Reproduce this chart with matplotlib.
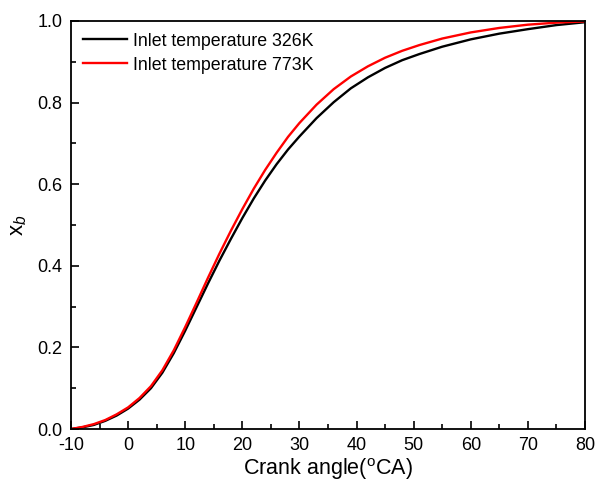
import matplotlib
matplotlib.use("Agg")
import matplotlib.pyplot as plt
from matplotlib.ticker import MultipleLocator, FormatStrFormatter

plt.rcParams['font.family'] = ['Liberation Sans', 'DejaVu Sans']
plt.rcParams['mathtext.fontset'] = 'custom'
plt.rcParams['mathtext.rm'] = 'Liberation Sans'
plt.rcParams['mathtext.it'] = 'Liberation Sans:italic'
plt.rcParams['axes.unicode_minus'] = False

crank_angle = [-10, -8, -6, -4, -2, 0, 2, 4, 6, 8, 10, 12, 14, 16, 18, 20, 22, 24, 26, 28,
               30, 33, 36, 39, 42, 45, 48, 51, 55, 60, 65, 70, 75, 80]
xb_326K = [0.0, 0.004, 0.010, 0.020, 0.033, 0.050, 0.072, 0.100, 0.138, 0.186, 0.241,
           0.299, 0.357, 0.413, 0.466, 0.517, 0.565, 0.609, 0.649, 0.685, 0.717, 0.762,
           0.801, 0.835, 0.862, 0.885, 0.904, 0.919, 0.937, 0.955, 0.969, 0.980, 0.990, 0.997]
xb_773K = [0.0, 0.005, 0.012, 0.022, 0.036, 0.053, 0.076, 0.105, 0.144, 0.193, 0.250,
           0.310, 0.371, 0.430, 0.486, 0.539, 0.589, 0.635, 0.677, 0.716, 0.750, 0.795,
           0.833, 0.864, 0.889, 0.910, 0.927, 0.941, 0.957, 0.972, 0.983, 0.991, 0.996, 0.999]
labels = ['Inlet temperature 326K', 'Inlet temperature 773K']
colors = ['black', 'red']

fig = plt.figure(figsize=(5.95, 4.82), dpi=100)
ax = fig.add_axes([71/595, 53/482, 514/595, 408/482])

ax.plot(crank_angle, xb_326K, color=colors[0], lw=1.7, label=labels[0])
ax.plot(crank_angle, xb_773K, color=colors[1], lw=1.7, label=labels[1])

ax.set_xlim(-10, 80)
ax.set_ylim(0, 1.0)
ax.xaxis.set_major_locator(MultipleLocator(10))
ax.xaxis.set_minor_locator(MultipleLocator(5))
ax.yaxis.set_major_locator(MultipleLocator(0.2))
ax.yaxis.set_minor_locator(MultipleLocator(0.1))
ax.yaxis.set_major_formatter(FormatStrFormatter('%.1f'))
ax.tick_params(which='both', direction='in', top=False, right=False, labelsize=13, width=1.2)
ax.tick_params(which='major', length=6, pad=6)
ax.tick_params(which='minor', length=3.5)
for s in ax.spines.values():
    s.set_linewidth(1.3)

ax.set_xlabel(r'Crank angle($\mathregular{^{o}}$CA)', fontsize=15.5, labelpad=1)
ax.set_ylabel(r'$\mathrm{x}_{b}$', fontsize=16, labelpad=6)

ax.legend(loc='upper left', frameon=False, fontsize=12.8, handlelength=2.5,
          handletextpad=0.35, labelspacing=0.4, borderaxespad=0.25,
          bbox_to_anchor=(0.0, 1.0))

fig.savefig('out.png', dpi=100)
